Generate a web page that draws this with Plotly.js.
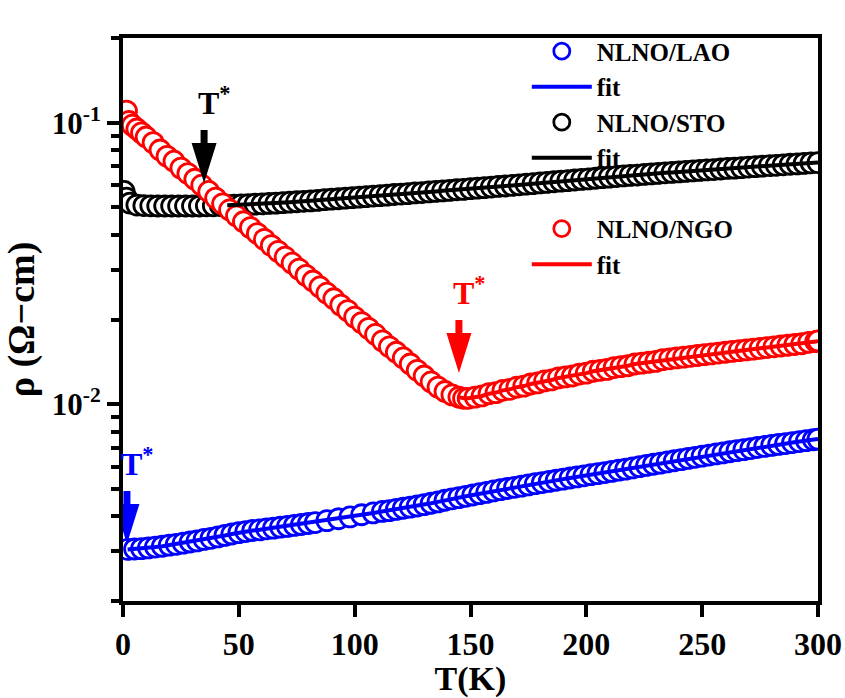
<!DOCTYPE html>
<html><head><meta charset="utf-8">
<script src="https://cdn.plot.ly/plotly-3.0.1.min.js"></script>
<style>body{margin:0;background:#fff}</style>
</head><body>
<div id="chart" style="width:845px;height:698px"></div>
<script>
// ---- data ----
const T_LAO = [2,5,8,11,14,17,20,23,26,29,
  32,35,38,41,44,47,50,53,56,59,
  62,65,68,71,74,77,80,83,88,93,
  98,103,108,112,115,118,121,124,127,130,
  133,136,139,142,145,148,151,154,157,160,
  163,166,169,172,175,178,181,184,187,190,
  193,196,199,202,205,208,211,214,217,220,
  223,226,229,232,235,238,241,244,247,250,
  253,256,259,262,265,268,271,274,277,280,
  283,286,289,292,295,298,300];
const rho_LAO = [0.00305,0.00306,0.00307,0.00309,0.00311,0.00313,0.00316,0.00318,0.00321,0.00324,
  0.00327,0.00331,0.00334,0.00338,0.00342,0.00346,0.00350,0.00353,0.00356,0.00358,
  0.00361,0.00363,0.00366,0.00368,0.00371,0.00374,0.00377,0.00380,0.00386,0.00392,
  0.00398,0.00405,0.00411,0.00416,0.00419,0.00423,0.00427,0.00431,0.00435,0.00440,
  0.00445,0.00450,0.00456,0.00461,0.00466,0.00471,0.00476,0.00481,0.00486,0.00492,
  0.00497,0.00502,0.00507,0.00512,0.00517,0.00522,0.00527,0.00532,0.00537,0.00542,
  0.00547,0.00552,0.00557,0.00562,0.00567,0.00572,0.00577,0.00583,0.00588,0.00594,
  0.00600,0.00606,0.00612,0.00618,0.00624,0.00630,0.00636,0.00642,0.00648,0.00654,
  0.00660,0.00666,0.00672,0.00678,0.00684,0.00690,0.00696,0.00702,0.00708,0.00714,
  0.00720,0.00725,0.00731,0.00737,0.00742,0.00748,0.00752];

const T_STO = [0.5,1.5,3,6,9,12,15,18,21,24,
  27,30,33,36,39,42,45,48,51,54,
  57,60,63,66,69,72,75,78,81,84,
  87,90,93,96,99,102,105,108,111,114,
  117,120,123,126,129,132,135,138,141,144,
  147,150,153,156,159,162,165,168,171,174,
  177,180,183,186,189,192,195,198,201,204,
  207,210,213,216,219,222,225,228,231,234,
  237,240,243,246,249,252,255,258,261,264,
  267,270,273,276,279,282,285,288,291,294,
  297,300];
const rho_STO = [0.0570,0.0540,0.0518,0.0510,0.0508,0.0507,0.0506,0.0506,0.0506,0.0506,
  0.0506,0.0506,0.0506,0.0507,0.0507,0.0508,0.0509,0.0510,0.0511,0.0512,
  0.0514,0.0515,0.0517,0.0518,0.0520,0.0522,0.0524,0.0526,0.0528,0.0530,
  0.0533,0.0535,0.0537,0.0540,0.0542,0.0544,0.0546,0.0549,0.0551,0.0553,
  0.0556,0.0558,0.0560,0.0563,0.0565,0.0568,0.0570,0.0573,0.0575,0.0578,
  0.0580,0.0583,0.0586,0.0588,0.0591,0.0594,0.0596,0.0599,0.0602,0.0605,
  0.0608,0.0611,0.0614,0.0617,0.0620,0.0623,0.0626,0.0629,0.0632,0.0635,
  0.0638,0.0641,0.0644,0.0647,0.0650,0.0652,0.0655,0.0658,0.0661,0.0664,
  0.0666,0.0669,0.0672,0.0674,0.0677,0.0680,0.0682,0.0685,0.0688,0.0690,
  0.0693,0.0696,0.0698,0.0701,0.0704,0.0706,0.0709,0.0712,0.0714,0.0717,
  0.0720,0.0722];

const T_NGO = [1.5,2.5,4,6,8,10,13,16,19,22,
  25,28,31,34,37,40,43,46,49,52,
  55,58,61,64,67,70,73,76,79,82,
  85,88,91,94,97,100,103,106,109,112,
  115,118,121,124,127,130,133,136,139,142,
  145,147,149,152,155,158,161,164,167,170,
  173,176,179,182,185,188,191,194,197,200,
  203,206,209,212,215,218,221,224,227,230,
  233,236,239,242,245,248,251,254,257,260,
  263,266,269,272,275,278,281,284,287,290,
  293,296,299,300];
const rho_NGO = [0.110,0.101,0.098,0.095,0.092,0.089,0.085,0.080,0.076,0.073,
  0.069,0.066,0.063,0.060,0.057,0.054,0.0515,0.0490,0.0467,0.0445,
  0.0424,0.0404,0.0385,0.0366,0.0349,0.0333,0.0317,0.0302,0.0287,0.0274,
  0.0261,0.0248,0.0237,0.0225,0.0215,0.0204,0.0195,0.0186,0.0177,0.0168,
  0.0160,0.0153,0.0146,0.0139,0.0132,0.0126,0.0120,0.0115,0.0111,0.0108,
  0.0106,0.0105,0.0105,0.0106,0.0107,0.0109,0.0110,0.0112,0.0113,0.0115,
  0.0116,0.0118,0.0119,0.0121,0.0122,0.0124,0.0125,0.0126,0.0128,0.0129,
  0.0131,0.0132,0.0133,0.0135,0.0136,0.0137,0.0139,0.0140,0.0141,0.0142,
  0.0144,0.0145,0.0146,0.0147,0.0148,0.0149,0.0150,0.0151,0.0152,0.0153,
  0.0154,0.0155,0.0156,0.0157,0.0158,0.0159,0.0160,0.0161,0.0162,0.0163,
  0.0164,0.0166,0.0167,0.0168];

// fit ranges (start temperature of each fit)
const fitStart = {LAO: 2, STO: 45, NGO: 145};

// T* arrows: temperature and resistivity at arrow tip
const tStarT   = [1.7, 35, 145];
const tStarRho = [0.00319, 0.0611, 0.01291];
const tStarColor = ['#0000ff', '#000000', '#ff0000'];

const xTicks = [0, 50, 100, 150, 200, 250, 300];
const yTicks = [0.01, 0.1];
const yTickText = ['10<sup>-2</sup>', '10<sup>-1</sup>'];
const yMinor = [0.002,0.003,0.004,0.005,0.006,0.007,0.008,0.009,
  0.02,0.03,0.04,0.05,0.06,0.07,0.08,0.09,0.2];

// ---- traces ----
const BLUE = '#0000ff', BLACK = '#000000', RED = '#ff0000';
function markers(x, y, color, name, rank) {
  return {x, y, type:'scatter', mode:'markers', name, legendrank: rank,
    marker:{symbol:'circle', size:20, color:'#ffffff', line:{color, width:2.8}},
    hoverinfo:'skip'};
}
function fit(x, y, start, color, rank) {
  const fx = [], fy = [];
  x.forEach((t, i) => { if (t >= start) { fx.push(t); fy.push(y[i]); } });
  return {x: fx, y: fy, type:'scatter', mode:'lines', name:'fit', legendrank: rank,
    line:{color, width:4}, hoverinfo:'skip'};
}
const data = [
  markers(T_LAO, rho_LAO, BLUE, 'NLNO/LAO', 1),
  markers(T_STO, rho_STO, BLACK, 'NLNO/STO', 3),
  markers(T_NGO, rho_NGO, RED, 'NLNO/NGO', 6),
  fit(T_LAO, rho_LAO, fitStart.LAO, BLUE, 2),
  fit(T_STO, rho_STO, fitStart.STO, BLACK, 4),
  fit(T_NGO, rho_NGO, fitStart.NGO, RED, 7),
  {x:[null], y:[null], type:'scatter', mode:'markers', name:' ', legendrank:5,
   marker:{color:'rgba(0,0,0,0)', size:1}, hoverinfo:'skip'}
];

const FONT = 'Liberation Serif, Times New Roman, serif';
const shapes = tStarT.map((t, i) => ({
  type:'path', xref:'x', yref:'y', xsizemode:'pixel', ysizemode:'pixel',
  xanchor: t, yanchor: tStarRho[i],
  path:'M-3.5,53 L3.5,53 L3.5,40 L12.5,40 L0,0 L-12.5,40 L-3.5,40 Z',
  fillcolor: tStarColor[i], line:{width:0}
}));
const annotations = tStarT.map((t, i) => ({
  xref:'x', yref:'y', x: t, y: Math.log10(tStarRho[i]),
  text:'T<sup>*</sup>', showarrow:false, xanchor:'left', yanchor:'bottom',
  xshift:-8, yshift:60,
  font:{family:FONT, size:32, color:tStarColor[i], weight:'bold'}
}));

const axisCommon = {
  showline:true, linewidth:4, linecolor:'#000', mirror:true,
  ticks:'outside', tickwidth:4, tickcolor:'#000', ticklen:12,
  showgrid:false, zeroline:false
};
const layout = {
  width:845, height:698,
  margin:{l:123, r:27, t:38, b:97},
  paper_bgcolor:'#ffffff', plot_bgcolor:'#ffffff',
  font:{family:FONT, color:'#000'},
  showlegend:true,
  legend:{x:0.581, xanchor:'left', y:1.017, yanchor:'top', bgcolor:'rgba(0,0,0,0)',
    borderwidth:0, itemwidth:60, traceorder:'normal',
    font:{family:FONT, size:25, color:'#000', weight:'bold'}},
  xaxis:Object.assign({}, axisCommon, {
    range:[0,300], tickmode:'array', tickvals:xTicks,
    tickfont:{family:FONT, size:32, color:'#000', weight:'bold'},
    title:{text:'T(K)', font:{family:FONT, size:34, color:'#000', weight:'bold'}, standoff:0}
  }),
  yaxis:Object.assign({}, axisCommon, {
    type:'log', range:[Math.log10(0.002), Math.log10(0.2)],
    tickmode:'array', tickvals:yTicks, ticktext:yTickText,
    tickfont:{family:FONT, size:31, color:'#000', weight:'bold'},
    minor:{tickmode:'array', tickvals:yMinor, ticks:'outside', ticklen:8, tickwidth:4, tickcolor:'#000', showgrid:false},
    title:{text:'ρ (Ω−cm)', font:{family:FONT, size:38, color:'#000', weight:'bold'}, standoff:6}
  }),
  shapes, annotations
};
Plotly.newPlot('chart', data, layout, {staticPlot:true, displayModeBar:false});
</script>
</body></html>
